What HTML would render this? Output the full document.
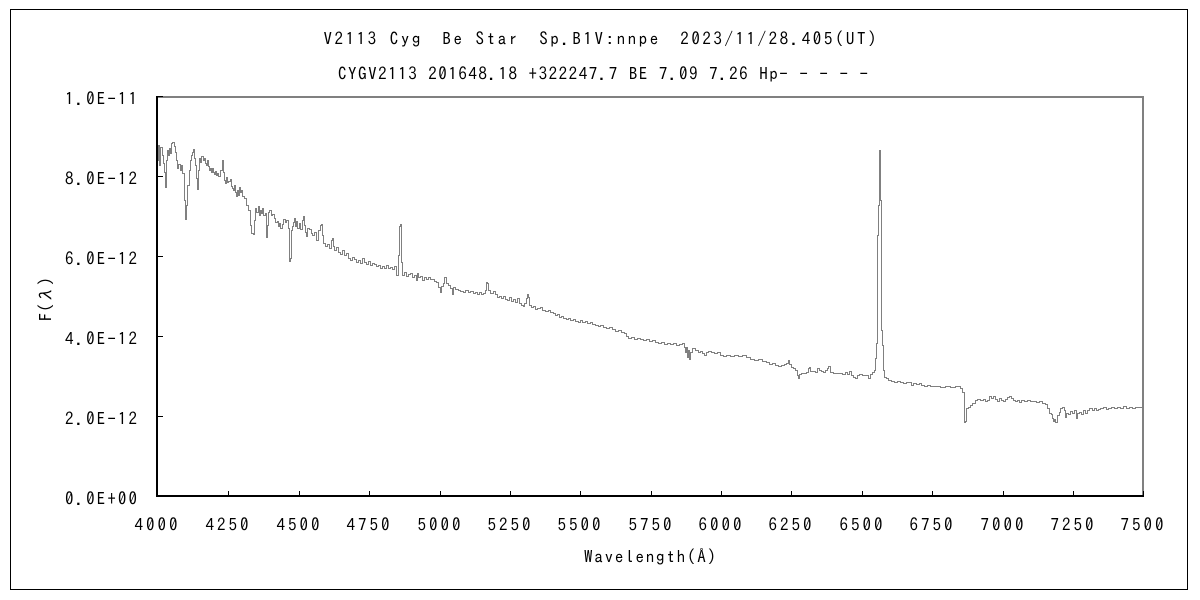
<!DOCTYPE html>
<html>
<head>
<meta charset="utf-8">
<style>
  html, body { margin:0; padding:0; background:#fff; }
  body { width:1200px; height:600px; overflow:hidden; }
  svg { display:block; }
  text { font-family: "IPAGothic", "Liberation Sans", "Noto Sans CJK JP", sans-serif; fill:#000; }
</style>
</head>
<body>
<svg width="1200" height="600" viewBox="0 0 1200 600" xmlns="http://www.w3.org/2000/svg">
  <rect x="0" y="0" width="1200" height="600" fill="#fff"/>
  <rect x="10.5" y="9.5" width="1177" height="580" fill="none" stroke="#000" stroke-width="1"/>

  <text x="600" y="45" font-size="17" text-anchor="middle" textLength="553" lengthAdjust="spacing">V2113 Cyg　Be Star　Sp.B1V:nnpe　2023/11/28.405(UT)</text>
  <text x="603" y="80" font-size="17" text-anchor="middle" textLength="530" lengthAdjust="spacing">CYGV2113 201648.18 +322247.7 BE 7.09 7.26 Hp- - - - -</text>

  <line x1="157" y1="97" x2="1143" y2="97" stroke="#808080" stroke-width="2"/>
  <line x1="1143" y1="96" x2="1143" y2="497" stroke="#808080" stroke-width="2"/>

  <g transform="translate(0.5,0.5)">
  <path fill="none" stroke="#808080" stroke-width="1" d="M157,147 V160 H158 V145 H159 V165 H160 V147 H162 V155 H163 V163 H164 V172 H165 V187 H166 V160 H167 V150 H168 V155 H169 V148 H170 V153 H171 V143 H172 V142 H174 V146 H175 V152 H176 V160 H177 V168 H178 V164 H180 V170 H181 V165 H182 V173 H184 V200 H185 V219 H186 V205 H187 V185 H189 V170 H190 V160 H191 V155 H192 V152 H193 V149 H194 V158 H195 V165 H196 V178 H197 V189 H198 V170 H199 V158 H200 V162 H201 V156 H203 V160 H204 V158 H205 V163 H206 V165 H207 V160 H208 V166 H209 V170 H210 V168 H211 V172 H212 V168 H213 V172 H214 V174 H215 V171 H216 V175 H217 V173 H218 V176 H220 V170 H222 V160 H223 V172 H224 V180 H225 V183 H226 V177 H227 V182 H228 V181 H230 V179 H231 V186 H232 V188 H233 V190 H234 V185 H235 V192 H236 V196 H237 V190 H238 V195 H239 V187 H240 V192 H241 V190 H242 V196 H244 V198 H246 V205 H248 V210 H250 V225 H251 V233 H253 V234 H254 V220 H255 V208 H256 V212 H258 V206 H259 V215 H260 V210 H261 V213 H262 V208 H263 V215 H265 V213 H266 V237 H267 V225 H268 V212 H269 V210 H271 V215 H272 V214 H274 V218 H275 V222 H277 V221 H278 V226 H279 V223 H280 V228 H282 V224 H283 V219 H285 V222 H286 V220 H288 V228 H289 V261 H290 V258 H291 V230 H292 V226 H293 V222 H294 V218 H295 V226 H296 V221 H297 V228 H299 V223 H300 V229 H302 V220 H303 V216 H304 V225 H305 V232 H306 V236 H307 V228 H309 V229 H311 V233 H312 V235 H314 V232 H316 V240 H318 V230 H320 V225 H321 V224 H322 V235 H323 V243 H325 V246 H327 V244 H329 V248 H331 V240 H332 V238 H333 V246 H334 V250 H336 V247 H338 V252 H340 V254 H342 V250 H344 V255 H346 V253 H348 V258 H350 V260 H352 V257 H354 V259 H356 V262 H358 V260 H360 V263 H362 V258 H364 V262 H366 V264 H368 V261 H370 V265 H372 V263 H374 V264 H376 V266 H378 V265 H380 V268 H382 V266 H384 V268 H386 V265 H388 V268 H390 V267 H392 V269 H394 V266 H396 V275 H398 V255 H399 V226 H400 V224 H401 V262 H402 V275 H404 V272 H406 V276 H408 V274 H410 V273 H412 V277 H414 V275 H416 V280 H417 V273 H418 V277 H420 V276 H422 V280 H424 V277 H426 V279 H428 V277 H430 V279 H432 V279 H434 V281 H436 V282 H438 V287 H440 V292 H441 V286 H443 V283 H444 V277 H446 V283 H448 V285 H450 V288 H452 V294 H453 V287 H455 V289 H458 V290 H460 V291 H463 V292 H465 V290 H468 V292 H470 V291 H473 V293 H475 V292 H477 V294 H479 V292 H481 V294 H483 V293 H485 V290 H486 V282 H487 V283 H488 V290 H490 V293 H493 V291 H495 V294 H497 V297 H499 V296 H501 V298 H503 V296 H505 V299 H507 V300 H509 V297 H511 V301 H513 V299 H515 V302 H517 V298 H519 V303 H521 V305 H523 V306 H524 V303 H526 V298 H527 V294 H528 V297 H529 V305 H531 V307 H533 V306 H535 V309 H537 V308 H540 V307 H542 V310 H545 V311 H548 V310 H550 V312 H553 V313 H555 V315 H557 V314 H559 V317 H561 V316 H563 V318 H566 V319 H568 V318 H570 V320 H573 V319 H575 V321 H578 V322 H580 V320 H582 V322 H585 V321 H587 V323 H590 V322 H592 V324 H595 V325 H598 V326 H600 V325 H603 V327 H606 V328 H609 V327 H612 V329 H615 V331 H618 V330 H621 V332 H624 V333 H626 V336 H628 V338 H631 V337 H634 V339 H637 V338 H640 V339 H643 V340 H646 V339 H649 V341 H652 V340 H655 V342 H658 V343 H661 V342 H664 V344 H667 V343 H670 V344 H673 V343 H676 V345 H679 V344 H682 V343 H684 V347 H685 V352 H686 V347 H687 V357 H688 V350 H689 V359 H690 V352 H692 V348 H695 V350 H698 V352 H700 V351 H702 V353 H704 V355 H706 V352 H708 V351 H711 V352 H714 V353 H717 V352 H720 V355 H723 V356 H726 V355 H730 V356 H734 V355 H738 V356 H742 V355 H746 V357 H750 V359 H754 V360 H758 V359 H762 V361 H766 V362 H769 V364 H772 V363 H775 V365 H778 V366 H781 V365 H784 V364 H786 V363 H788 V360 H789 V364 H791 V367 H793 V368 H795 V370 H797 V375 H798 V378 H799 V374 H801 V373 H804 V373 H806 V372 H808 V368 H809 V367 H810 V371 H813 V371 H815 V372 H817 V368 H819 V370 H821 V371 H823 V372 H825 V370 H827 V368 H828 V366 H830 V372 H833 V373 H836 V373 H839 V373 H842 V374 H845 V372 H847 V374 H849 V371 H851 V375 H853 V377 H855 V378 H857 V375 H859 V374 H862 V375 H865 V375 H868 V378 H870 V374 H872 V372 H874 V370 H875 V358 H876 V343 H877 V235 H878 V205 H879 V150 H880 V200 H881 V330 H882 V345 H883 V370 H884 V377 H886 V378 H888 V380 H891 V381 H894 V382 H897 V381 H900 V382 H903 V383 H906 V382 H909 V382 H911 V385 H913 V383 H916 V384 H919 V383 H921 V385 H924 V386 H927 V385 H930 V386 H935 V386 H940 V387 H945 V386 H950 V387 H955 V386 H960 V388 H962 V392 H964 V422 H965 V421 H966 V408 H968 V407 H970 V405 H972 V403 H975 V400 H977 V399 H980 V400 H983 V399 H985 V401 H987 V400 H989 V396 H991 V398 H993 V396 H995 V399 H997 V401 H999 V398 H1001 V400 H1003 V401 H1005 V399 H1007 V397 H1009 V396 H1011 V398 H1013 V400 H1015 V401 H1017 V400 H1019 V402 H1021 V400 H1024 V401 H1027 V400 H1030 V401 H1033 V401 H1036 V402 H1039 V401 H1042 V403 H1045 V404 H1047 V408 H1049 V413 H1051 V414 H1052 V418 H1053 V421 H1054 V419 H1055 V422 H1057 V415 H1059 V412 H1060 V408 H1062 V407 H1064 V410 H1065 V417 H1066 V413 H1068 V414 H1070 V411 H1072 V413 H1074 V410 H1076 V418 H1077 V413 H1079 V412 H1081 V414 H1083 V410 H1085 V413 H1087 V410 H1089 V408 H1092 V410 H1094 V408 H1096 V410 H1098 V409 H1100 V408 H1103 V407 H1106 V409 H1108 V408 H1111 V407 H1114 V408 H1117 V407 H1120 V408 H1123 V406 H1126 V408 H1129 V407 H1132 V408 H1135 V407 H1138 V407 H1142 V406"/>
  </g>

  <line x1="157" y1="96" x2="157" y2="497" stroke="#000" stroke-width="2"/>
  <line x1="156" y1="496" x2="1144" y2="496" stroke="#000" stroke-width="2"/>

  <g stroke="#000" stroke-width="1">
    <line x1="157" y1="96.5" x2="163" y2="96.5"/>
    <line x1="157" y1="176.5" x2="163" y2="176.5"/>
    <line x1="157" y1="256.5" x2="163" y2="256.5"/>
    <line x1="157" y1="336.5" x2="163" y2="336.5"/>
    <line x1="157" y1="416.5" x2="163" y2="416.5"/>
  </g>
  <g stroke="#000" stroke-width="1">
    <line x1="228.5" y1="496" x2="228.5" y2="491"/>
    <line x1="299.5" y1="496" x2="299.5" y2="491"/>
    <line x1="369.5" y1="496" x2="369.5" y2="491"/>
    <line x1="440.5" y1="496" x2="440.5" y2="491"/>
    <line x1="510.5" y1="496" x2="510.5" y2="491"/>
    <line x1="580.5" y1="496" x2="580.5" y2="491"/>
    <line x1="651.5" y1="496" x2="651.5" y2="491"/>
    <line x1="721.5" y1="496" x2="721.5" y2="491"/>
    <line x1="791.5" y1="496" x2="791.5" y2="491"/>
    <line x1="862.5" y1="496" x2="862.5" y2="491"/>
    <line x1="932.5" y1="496" x2="932.5" y2="491"/>
    <line x1="1003.5" y1="496" x2="1003.5" y2="491"/>
    <line x1="1073.5" y1="496" x2="1073.5" y2="491"/>
    <line x1="1143.5" y1="496" x2="1143.5" y2="491"/>
  </g>

  <g font-size="17" text-anchor="end">
    <text x="137" y="105" textLength="72" lengthAdjust="spacing">1.0E-11</text>
    <text x="137" y="185" textLength="72" lengthAdjust="spacing">8.0E-12</text>
    <text x="137" y="265" textLength="72" lengthAdjust="spacing">6.0E-12</text>
    <text x="137" y="345" textLength="72" lengthAdjust="spacing">4.0E-12</text>
    <text x="137" y="425" textLength="72" lengthAdjust="spacing">2.0E-12</text>
    <text x="137" y="505" textLength="72" lengthAdjust="spacing">0.0E+00</text>
  </g>

  <g font-size="17" text-anchor="middle">
    <text x="156" y="531" textLength="43" lengthAdjust="spacing">4000</text>
    <text x="227" y="531" textLength="43" lengthAdjust="spacing">4250</text>
    <text x="298" y="531" textLength="43" lengthAdjust="spacing">4500</text>
    <text x="368" y="531" textLength="43" lengthAdjust="spacing">4750</text>
    <text x="439" y="531" textLength="43" lengthAdjust="spacing">5000</text>
    <text x="509" y="531" textLength="43" lengthAdjust="spacing">5250</text>
    <text x="579" y="531" textLength="43" lengthAdjust="spacing">5500</text>
    <text x="650" y="531" textLength="43" lengthAdjust="spacing">5750</text>
    <text x="720" y="531" textLength="43" lengthAdjust="spacing">6000</text>
    <text x="790" y="531" textLength="43" lengthAdjust="spacing">6250</text>
    <text x="861" y="531" textLength="43" lengthAdjust="spacing">6500</text>
    <text x="931" y="531" textLength="43" lengthAdjust="spacing">6750</text>
    <text x="1002" y="531" textLength="43" lengthAdjust="spacing">7000</text>
    <text x="1072" y="531" textLength="43" lengthAdjust="spacing">7250</text>
    <text x="1142" y="531" textLength="43" lengthAdjust="spacing">7500</text>
  </g>

  <text x="650" y="563" font-size="17" text-anchor="middle" textLength="132" lengthAdjust="spacing">Wavelength(Å)</text>
  <text transform="translate(52,299) rotate(-90)" font-size="17" text-anchor="middle" textLength="44" lengthAdjust="spacing">F(λ)</text>
</svg>
</body>
</html>
